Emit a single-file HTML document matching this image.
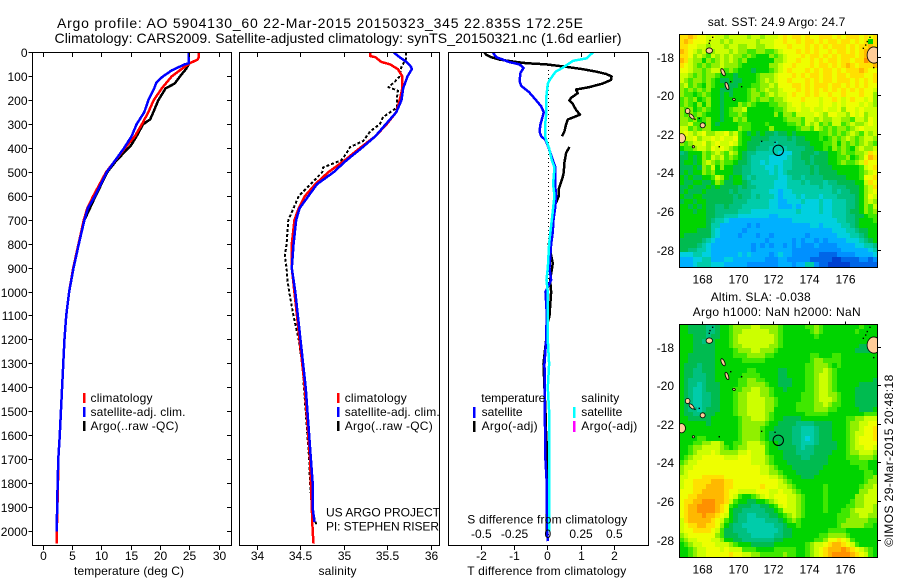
<!DOCTYPE html>
<html lang="en">
<head>
<meta charset="utf-8">
<title>Argo profile 5904130</title>
<style>
html,body{margin:0;padding:0;background:#fff;width:900px;height:580px;overflow:hidden}
svg{display:block}
text{font-family:"Liberation Sans",sans-serif;font-size:12px;fill:#000}
.ttl{font-size:14px}
.cr{shape-rendering:crispEdges}
</style>
</head>
<body>
<svg id="fig" xmlns="http://www.w3.org/2000/svg" width="900" height="580" viewBox="0 0 900 580">
<defs>
<clipPath id="c1"><rect x="32.5" y="52.5" width="199" height="493"/></clipPath>
<clipPath id="c2"><rect x="239.5" y="52.5" width="200" height="493"/></clipPath>
<clipPath id="c3"><rect x="448.5" y="52.5" width="200" height="493"/></clipPath>
<clipPath id="m1"><rect x="679.3" y="34.3" width="198" height="232.7"/></clipPath>
<clipPath id="m2"><rect x="679.3" y="324.3" width="198" height="232.7"/></clipPath>
</defs>
<rect width="900" height="580" fill="#fff"/>
<text class="ttl" x="57" y="28" textLength="526" lengthAdjust="spacing">Argo profile: AO 5904130_60 22-Mar-2015 20150323_345 22.835S 172.25E</text>
<text class="ttl" x="54.5" y="43" textLength="567" lengthAdjust="spacing">Climatology: CARS2009. Satellite-adjusted climatology: synTS_20150321.nc (1.6d earlier)</text>

<g id="panelT"></g>
<g id="panelS"></g>
<g id="panelD"></g>
<g id="mapA"></g>
<g id="mapB"></g>

<text x="74" y="575" textLength="110" lengthAdjust="spacing">temperature (deg C)</text>
<text x="318.5" y="575" textLength="38" lengthAdjust="spacing">salinity</text>
<text x="467.3" y="575" textLength="159" lengthAdjust="spacing">T difference from climatology</text>
<text x="467.3" y="523.5" textLength="160" lengthAdjust="spacing">S difference from climatology</text>

<g>
<rect class="cr" x="83" y="393" width="2.5" height="10" fill="#f00"/>
<rect class="cr" x="83" y="407" width="2.5" height="10" fill="#00f"/>
<rect class="cr" x="83" y="421" width="2.5" height="10" fill="#000"/>
<text x="90.5" y="402" textLength="62" lengthAdjust="spacing">climatology</text>
<text x="90.5" y="416" textLength="95" lengthAdjust="spacing">satellite-adj. clim.</text>
<text x="90.5" y="430" textLength="88" lengthAdjust="spacing">Argo(..raw -QC)</text>
</g>
<g>
<rect class="cr" x="337" y="393" width="2.5" height="10" fill="#f00"/>
<rect class="cr" x="337" y="407" width="2.5" height="10" fill="#00f"/>
<rect class="cr" x="337" y="421" width="2.5" height="10" fill="#000"/>
<text x="344.7" y="402" textLength="62" lengthAdjust="spacing">climatology</text>
<text x="344.7" y="416" textLength="95" lengthAdjust="spacing">satellite-adj. clim.</text>
<text x="344.7" y="430" textLength="88" lengthAdjust="spacing">Argo(..raw -QC)</text>
</g>
<g>
<text x="481.3" y="402" textLength="64" lengthAdjust="spacing">temperature</text>
<text x="481.6" y="416" textLength="41" lengthAdjust="spacing">satellite</text>
<text x="481.6" y="430" textLength="56" lengthAdjust="spacing">Argo(-adj)</text>
<rect class="cr" x="473" y="407" width="2.5" height="11" fill="#00f"/>
<rect class="cr" x="473" y="421" width="2.5" height="11" fill="#000"/>
<text x="581.3" y="402" textLength="38" lengthAdjust="spacing">salinity</text>
<text x="581.3" y="416" textLength="41" lengthAdjust="spacing">satellite</text>
<text x="581.3" y="430" textLength="56" lengthAdjust="spacing">Argo(-adj)</text>
<rect class="cr" x="573" y="407" width="2.5" height="11" fill="#0ff"/>
<rect class="cr" x="573" y="421" width="2.5" height="11" fill="#f0f"/>
</g>
<text x="326" y="516.5" textLength="114" lengthAdjust="spacing">US ARGO PROJECT</text>
<text x="326" y="530.5" textLength="113" lengthAdjust="spacing">PI: STEPHEN RISER</text>

<text x="707.7" y="26" textLength="137.6" lengthAdjust="spacing">sat. SST: 24.9 Argo: 24.7</text>
<text x="710.7" y="301" textLength="100" lengthAdjust="spacing">Altim. SLA: -0.038</text>
<text x="692.7" y="316" textLength="168" lengthAdjust="spacing">Argo h1000: NaN h2000: NaN</text>
<text transform="translate(893,546.7) rotate(-90)" textLength="172" lengthAdjust="spacing">©IMOS 29-Mar-2015 20:48:18</text>
</svg>

<script>
/* ---- axis values ---- */
const depthTicks = [0,100,200,300,400,500,600,700,800,900,1000,1100,1200,1300,1400,1500,1600,1700,1800,1900,2000];
const tempTicks = [0,5,10,15,20,25,30];
const salTicks = [34,34.5,35,35.5,36];
const salTickLabels = ['34','34.5','35','35.5','36'];
const tDiffTicks = [-2,-1,0,1,2];
const sDiffTicks = [-0.5,-0.25,0,0.25,0.5];
const sDiffLabels = ['-0.5','-0.25','0','0.25','0.5'];
const lonTicks = [168,170,172,174,176];
const latTicks = [-18,-20,-22,-24,-26,-28];

/* ---- temperature profiles ---- */
const tempClimDepth = [0,20,30,45,60,100,150,200,250,300,350,400,500,600,650,700,800,900,1000,1100,1200,1300,1400,1500,1600,1700,1800,1900,2000,2050];
const tempClim = [26.5,26.5,26.3,25.0,24.1,21.9,20.2,18.8,17.9,16.8,15.6,13.9,10.7,8.5,7.5,6.9,6.0,5.1,4.4,3.9,3.6,3.4,3.2,3.0,2.8,2.55,2.5,2.4,2.3,2.3];
const tempSatDepth = [0,45,50,75,100,125,150,200,250,300,350,400,500,600,650,700,800,900,1000,1100,1200,1300,1400,1500,1600,1700,1800,1900,2000];
const tempSat = [24.8,24.8,24.1,21.9,20.4,19.3,18.9,17.9,17.2,15.9,15.05,13.75,10.8,8.8,7.6,7.0,6.05,5.15,4.4,3.9,3.6,3.4,3.2,3.0,2.8,2.55,2.45,2.35,2.3];
const tempArgoDepth = [0,50,70,100,130,150,200,250,280,300,350,390,450,500,600,700,800,900,1000,1100,1200,1300,1400,1500,1600,1700,1800,1900,2000];
const tempArgo = [24.8,24.8,24.3,23.3,22.4,20.85,19.6,18.75,18.2,17,15.9,14.9,12.5,10.9,8.9,7.0,6.05,5.15,4.4,3.9,3.6,3.4,3.2,3,2.8,2.55,2.45,2.35,2.3];

/* ---- salinity profiles ---- */
const salClimDepth = [0,15,20,40,50,70,100,150,200,250,300,350,400,450,500,550,600,650,700,800,900,1000,1100,1200,1300,1400,1500,1600,1700,1800,1900,2000,2050];
const salClim = [35.30,35.30,35.36,35.43,35.53,35.62,35.67,35.67,35.64,35.60,35.49,35.36,35.18,35.01,34.82,34.67,34.55,34.48,34.43,34.40,34.40,34.43,34.46,34.49,34.52,34.55,34.57,34.59,34.61,34.62,34.63,34.64,34.65];
const salSatDepth = [0,20,40,60,70,100,150,200,250,300,350,400,450,500,550,600,650,700,800,900,1000,1100,1200,1300,1400,1500,1600,1700,1800,1900,1960];
const salSat = [35.57,35.64,35.72,35.77,35.78,35.73,35.68,35.66,35.60,35.48,35.36,35.20,35.03,34.88,34.69,34.59,34.49,34.45,34.42,34.40,34.44,34.47,34.50,34.53,34.56,34.58,34.60,34.62,34.64,34.64,34.66];
const salArgoDepth = [0,30,60,100,120,145,160,185,230,270,300,330,370,395,420,450,480,500,530,560,600,650,700,800,850,900,950,1000,1100,1200,1300,1400,1500,1600,1700,1800,1900,1960,1975];
const salArgo = [35.71,35.71,35.66,35.64,35.59,35.51,35.62,35.61,35.61,35.45,35.41,35.30,35.22,35.07,35.03,34.97,34.76,34.75,34.67,34.59,34.48,34.42,34.36,34.34,34.32,34.34,34.35,34.37,34.42,34.48,34.52,34.54,34.56,34.58,34.60,34.61,34.63,34.67,34.69];

/* ---- differences from climatology ---- */
const dTSatDepth = [0,20,30,40,50,65,85,120,140,165,200,225,250,300,330,350,365,400,450,480,550,600,650,700,750,800,900,950,1000,1090,1200,1300,1500,1700,1800,2000,2040];
const dTSat = [-1.65,-1.55,-1.35,-1.17,-0.85,-0.73,-0.82,-0.85,-0.8,-0.57,-0.35,-0.2,-0.12,-0.22,-0.25,-0.2,-0.07,0.03,0.15,0.23,0.22,0.25,0.22,0.17,0.15,0.1,0.05,0.1,-0.07,-0.03,-0.05,-0.1,-0.09,-0.07,-0.03,-0.02,0];
const dTArgoDepth = [0,10,20,30,40,45,50,60,70,80,90,100,115,130,145,155,170,190,200,215,240,260,280,300,330,350,370,395,420,460,500,520,570,600,650,700,800,880,950,1000,1100,1150,1200,1300,1500,1600,1700,1800,2000];
const dTArgo = [-1.9,-1.85,-1.7,-1.45,-0.95,-0.65,-0.05,0.55,1.05,1.45,1.75,1.92,1.9,1.65,1.25,0.85,0.9,0.7,0.65,0.75,0.85,0.97,0.6,0.55,0.5,0.43,null,0.65,0.55,0.5,0.48,0.45,0.33,0.33,0.18,0.17,0.03,0.15,0.07,0.1,0.05,-0.05,-0.05,-0.13,-0.07,-0.05,0,-0.03,-0.03];
const dSSatDepth = [0,15,25,35,50,65,80,110,130,180,250,300,350,370,400,450,480,550,600,650,700,800,900,950,1000,1100,1200,1300,1400,1500,1600,1700,1800,1950,2000];
const dSSat = [0.34,0.31,0.29,0.19,0.15,0.11,0.06,0.02,0,-0.01,-0.01,-0.02,-0.02,-0.01,0.01,0.03,0.05,0.04,0.05,0.04,0.03,0.01,0,-0.01,0,0,0,0.01,0,0.01,0.01,0.01,0.01,0.01,0.01];

/* ---- map grids: one hex colour level per cell, north to south ---- */
const sstRows = [
"ddedccbcbba bbbbabbabbb cdcddcdccdd dcdcdddcdcd",
"dedcccbbbab abbbbbabbbc cdccdcddcdc ddcddcdcd8d",
"ddccbbabbba bbaabbaabbc ccdcccdcdcd cdddcdcdded",
"edcbab9abbb abaa99aa99a bcccdcdcdcc dcddcdcdeef",
"ddcaba9baba baa9a9888a9 abcccdcddcd cdcdddcdeff",
"edbaa8a9aba ba9a888888a abccdccdcdc ddcddcddfed",
"dcba9a9aaba aa9888888aa bccdcccdcdd cdcdedcddde",
"ccbaa9abba9 a988878889a bcdcccdcdcd dcdcdddedcc",
"bba9a9aa988 8788889aaab cccdcdcddcd dcddcdddccd",
"ba9aa9a9877 8778889abab ccdcccdcdcd dcdddcdcdcd",
"ab9a98a9887 7788899aaba cccddcdcddd cddcdcdcdcc",
"a9a9a9a8877 78889a9abaa bcccdcdcdcd cdcdcdcdccb",
"a9989a98878 78889aa9aba bbcdccdcdcc dccdcccdcca",
"9a9a89a8878 88889a9aa9a abcccdcccbc cdcbcdccbca",
"9a98a8a8878 88a9a988899 aabccbcccbc cbcbcccbcba",
"a9a89a98878 9aab8888889 9abbcbbcbbc bbcaccbcbbb",
"a9a9a988878 99a9888888a 8aa9bbbbcba ccbbacbcabb",
"aa9a89a8878 8a9a8888888 89aaa9bbaba abbaa9bbacb",
"aab998a8788 88999888988 8899a9bab9a 9bb9abaabcb",
"bb9a9aa8888 88a998888a8 88889aa9ba9 a9aa9abcbbb",
"bcbabcaabbc ab987878776 77878888899 a9a9aba9bab",
"abbcabbcbcb bc988777766 66767788898 9a9aba9abba",
"a9abbcabcbb cb987776665 66667778889 9a8a9a9aba9",
"899abbacbcb a9887766655 55666677889 8a9a98abaab",
"67888a9aba9 ba876655555 44466777677 889a99aabdc",
"77878a9bab9 a9876555544 44566776777 8899a89aced",
"78878aba9a9 98776554544 45566676777 889a99abdcc",
"77787a9b8a8 87766555445 45566667677 78888889bcd",
"78788a9a888 87766555545 45666667677 77888889abc",
"87877889ba8 78865655555 44566566667 77778889ccd",
"87788778a97 78876555554 44555656665 66777788bdc",
"77877787877 77676655554 44555555565 56667778abd",
"78777877777 67666555544 34455555555 56566778abc",
"87788777777 76766565554 34445455545 55666678acb",
"78878877777 76665555544 33444544454 45556678aba",
"88787877667 66655555544 33343444454 45556678a9b",
"88878877666 66555444444 44445444454 45556778a9a",
"88888877665 55444444433 44444444444 45556677899",
"88888876554 33333333333 33344444444 44556678889",
"88888875533 33332323333 33333334434 44455678888",
"88887775433 33323333333 33333333333 34445567788",
"87777775433 33233323323 33333323333 33444556788",
"77777654333 33333333233 33323233232 33334445678",
"77776543333 33333232323 32323222322 22333344556",
"77665543333 33333233333 33322222222 22233333345",
"44455443333 33434333323 43322222211 11222233334",
"33344553334 43333333222 33222221111 10011112212",
"33345554443 33332222222 33323355211 00000111111"
];
const slaRows = [
"88777766788 9aaaabbaaaa 98888899a98 88888889888",
"88777766788 9aabbbbbbaa 98888889a98 88888898888",
"88877767788 9abbbbbbbba 98888888988 88888888888",
"88877677888 9abbbbbbbba 98888888888 88888888887",
"88877777888 9aabbbbbbaa 98888888888 88888887777",
"88877777888 89aaabbaaa9 88888888888 88888877777",
"88777777888 8999aaaa998 88888889988 89988888888",
"88777777888 88899999888 88888889aa9 99988888888",
"87776777888 88888888888 88888899aaa 98988888888",
"87766777888 88889988888 77888899aab a9888888888",
"87766677888 88899998888 77888899abb a9888888888",
"87666677888 8899aa99888 77788899abb a9888888887",
"87665677788 8899aaaa988 77788899abb a9888887777",
"87655677788 899aabbaa98 87888899abb a9888877777",
"87655667788 89aabbbaa98 88888999abb aa988877777",
"87655667788 89aabbbbaa9 88888999abb ba988877777",
"87655667788 89aabbbbaa9 88889999aab a9988877777",
"87665677788 89aabbbbaa8 88889999aaa 99888887778",
"87766777888 89aabbbba98 88888899999 88888888999",
"88777778888 889aabbba98 87777888888 888899aabbb",
"88888878888 889aaaaa988 77776666777 78889aabbcc",
"88888888888 889aaaa9887 77766555677 78889aabccd",
"88888888888 889aaaa9877 77766555677 78889abbccd",
"88889988888 889aaaa9877 77766545677 78889abcccd",
"88899aabba8 899abbba988 77766555677 77889abcccc",
"889aabbbba9 89aabbbb988 77776566777 77889abbccb",
"889abbbcbaa aabbcbbb988 87776666777 78889aabbba",
"89abbcccccb bbcccbbba98 87777667777 8888999aaa9",
"9abbccccccc cccccbbba98 88777777777 88888999988",
"abbcccccccc cccccccbba9 88877777778 88888889988",
"abccccccccc cccccccbbaa 98887777788 88888888998",
"bbcccdddddc cccccccccbb a9888777888 8888888899a",
"bccddddeeed dcccccccccc ba988888888 888888889aa",
"bccdddeeeed dccccccdccc bba98888889 88888889aab",
"cccddeeeeed ccbbbbcccbb cbba9888889 8888888aabb",
"ccddeeeeeed cb9889abcbc ccbba988889 888888aabbb",
"cddeefffeed b98877889ab ccbba988889 888889aabbb",
"cdeeffffedc 98777667789 bcbba988889 888899aabba",
"cdeeffffedc 87766666778 9bbba988889 88899abbbba",
"cdeeefeedcb 87665566677 89aba988888 88999aabbaa",
"bdeeeeedcb9 87665555666 789a9888888 8899aaaaa99",
"bcddeeddca8 76655555556 67889888888 889aaaaa998",
"bccddddcb97 76665555555 67788888888 99998888888",
"abcccccca97 77666555556 67788888899 aaaa9888888",
"9abbcccbba8 87766666667 7888888899a ccdcb988888",
"89abbcccbbb a9888777778 8888889abbc deedcb98888",
"889abbcccbc bbb99988889 9999889abcd eeefedcba98",
"889abbccccc dccbbaa9999 9a99889abcd effffedcb98"
];
const colourLevels = ['#0040d0','#0066e8','#0090ff','#00b0ff','#00d0e0','#00ccaa','#00c080','#00bb50','#00d400','#40e800','#90f000','#ccff00','#eeff00','#ffe000','#ffb800','#ff9000'];

/* ---- geography (degrees) ---- */
const landLon = [168.39,169.16,169.38,169.77,167.18,167.4,168.02,166.84,167.5,177.6];
const landLat = [-17.67,-18.79,-19.5,-20.2,-20.8,-21.08,-21.54,-22.21,-22.65,-17.9];
const landRadLon = [0.18,0.09,0.08,0.08,0.13,0.18,0.14,0.22,0.06,0.38];
const landRadLat = [0.14,0.2,0.2,0.05,0.13,0.08,0.13,0.24,0.06,0.42];
const landTilt = [0,-25,-20,20,0,45,30,0,0,0];
const speckLon = [170.2,172.07,171.32,168.95,177.59,169.59,167.83,167.59,168.43,168.58,168.39,177.01,177.14,177.23,177.38];
const speckLat = [-19.54,-22.42,-22.37,-22.65,-18.55,-19.28,-21.18,-21.23,-17.15,-16.98,-17.29,-17.55,-17.38,-17.2,-16.98];
const profileLon = 172.25;
const profileLat = -22.835;

/* ---- scales ---- */
function linear(d0,d1,r0,r1){return function(v){return r0+(v-d0)*(r1-r0)/(d1-d0);};}
const depthY = linear(0,1000,52.4,292);
const tempX = linear(0,30,43.3,219.3);
const salX = linear(34,36,257,431);
const tDiffX = linear(-2,2,481.3,614.3);
const sDiffX = linear(-0.5,0.5,481.3,614.3);
const lonX = linear(168,176,702.3,845.3);
const latY1 = linear(-18,-28,57,250);
const latY2 = linear(-18,-28,347,540);
const NS = 'http://www.w3.org/2000/svg';

function mk(tag,parent,attrs){
  const el=document.createElementNS(NS,tag);
  for(const k in attrs){el.setAttribute(k,attrs[k]);}
  parent.appendChild(el);
  return el;
}
function snap(v){return Math.round(v-0.5)+0.5;}
function tick(parent,x1,y1,x2,y2,name){
  const el=mk('line',parent,{x1:x1,y1:y1,x2:x2,y2:y2,stroke:'#000','stroke-width':1,'class':'cr'});
  
  
}
function label(parent,x,y,anchor,str,name){
  const el=mk('text',parent,{x:x,y:y,'text-anchor':anchor});
  el.textContent=str;
  
  
}
function frame(parent,x,y,w,h,name){
  const el=mk('rect',parent,{x:x,y:y,width:w,height:h,fill:'none',stroke:'#000','stroke-width':1,'class':'cr'});
  
  
}
function series(parent,depths,values,xs,colour,w,clip,name,dash){
  let pts=[];
  function flush(){
    if(pts.length>1){
      const a={points:pts.join(' '),fill:'none',stroke:colour,'stroke-width':w,'clip-path':'url(#'+clip+')','stroke-linejoin':'round','class':'cr'};
      if(dash){a['stroke-dasharray']=dash;}
      const el=mk('polyline',parent,a);
      
      
    }
    pts=[];
  }
  for(let i=0;i<values.length;i++){
    if(values[i]===null){flush();continue;}
    pts.push(xs(values[i]).toFixed(2)+','+depthY(depths[i]).toFixed(2));
  }
  flush();
}

/* ---- temperature panel ---- */
const pT=document.getElementById('panelT');
series(pT,tempArgoDepth,tempArgo,tempX,'#000',2.5,'c1','argo-temperature-line');
series(pT,tempClimDepth,tempClim,tempX,'#f00',2.5,'c1','climatology-temperature-line');
series(pT,tempSatDepth,tempSat,tempX,'#00f',2.5,'c1','satellite-temperature-line');
frame(pT,32.5,52.5,199,493,'temperature-plot-frame');
depthTicks.forEach(function(d){
  const y=snap(depthY(d));
  tick(pT,28.5,y,32.5,y,'depth-tick');
  tick(pT,227,y,231.5,y,'depth-tick-right');
  label(pT,27.5,y+4.5,'end',String(d),'depth-tick-label');
});
tempTicks.forEach(function(v){
  const x=snap(tempX(v));
  tick(pT,x,52.5,x,57,'temperature-tick-top');
  tick(pT,x,545.5,x,550,'temperature-tick');
  label(pT,x,560,'middle',String(v),'temperature-tick-label');
});

/* ---- salinity panel ---- */
const pS=document.getElementById('panelS');
series(pS,salArgoDepth,salArgo,salX,'#000',2,'c2','argo-salinity-line','3 2');
series(pS,salClimDepth,salClim,salX,'#f00',2.5,'c2','climatology-salinity-line');
series(pS,salSatDepth,salSat,salX,'#00f',2.5,'c2','satellite-salinity-line');
frame(pS,239.5,52.5,200,493,'salinity-plot-frame');
salTicks.forEach(function(v,i){
  const x=snap(salX(v));
  tick(pS,x,52.5,x,57,'salinity-tick-top');
  tick(pS,x,545.5,x,550,'salinity-tick');
  label(pS,x,560,'middle',salTickLabels[i],'salinity-tick-label');
});

/* ---- difference panel ---- */
const pD=document.getElementById('panelD');
const zeroLine=mk('line',pD,{x1:548.5,y1:70,x2:548.5,y2:540,stroke:'#000','stroke-width':1,'stroke-dasharray':'1 3','class':'cr'});


series(pD,dTArgoDepth,dTArgo,tDiffX,'#000',2.5,'c3','argo-temperature-difference-line');
series(pD,dTSatDepth,dTSat,tDiffX,'#00f',2.5,'c3','satellite-temperature-difference-line');
series(pD,dSSatDepth,dSSat,sDiffX,'#0ff',2.5,'c3','satellite-salinity-difference-line');
frame(pD,448.5,52.5,200,493,'difference-plot-frame');
tDiffTicks.forEach(function(v){
  const x=snap(tDiffX(v));
  tick(pD,x,52.5,x,57,'t-difference-tick-top');
  tick(pD,x,545.5,x,550,'t-difference-tick');
  label(pD,x,560,'middle',String(v),'t-difference-tick-label');
});
sDiffTicks.forEach(function(v,i){
  label(pD,sDiffX(v),538,'middle',sDiffLabels[i],'s-difference-tick-label');
});

/* ---- maps ---- */
function drawMap(parent,rows,latY,clip,cellName,topY,botY,labelBase){
  const lonMin=166.71,lonMax=177.79,latMax=-16.82,latMin=-28.88;
  const nR=rows.length;
  rows.forEach(function(rowText,r){
    const row=rowText.replace(/ /g,'');
    const nC=row.length;
    const dLon=(lonMax-lonMin)/nC,dLat=(latMax-latMin)/nR;
    for(let c=0;c<nC;c++){
      const x0=Math.round(lonX(lonMin+c*dLon)),x1=Math.round(lonX(lonMin+(c+1)*dLon));
      const y0=Math.round(latY(latMax-r*dLat)),y1=Math.round(latY(latMax-(r+1)*dLat));
      const cell=mk('rect',parent,{x:x0,y:y0,width:x1-x0,height:y1-y0,fill:colourLevels[parseInt(row[c],16)],'class':'cr'});
      
      
    }
  });
  landLon.forEach(function(lon,i){
    const cx=lonX(lon),cy=latY(landLat[i]);
    const rx=lonX(lon+landRadLon[i])-cx;
    const ry=latY(landLat[i]-landRadLat[i])-cy;
    const isl=mk('ellipse',parent,{cx:cx.toFixed(2),cy:cy.toFixed(2),rx:rx.toFixed(2),ry:ry.toFixed(2),fill:'#ffcc99',stroke:'#000','stroke-width':0.8,transform:'rotate('+landTilt[i]+' '+cx.toFixed(2)+' '+cy.toFixed(2)+')','clip-path':'url(#'+clip+')'});
    
    
  });
  speckLon.forEach(function(lon,i){
    const sp=mk('rect',parent,{x:(lonX(lon)-0.7).toFixed(2),y:(latY(speckLat[i])-0.7).toFixed(2),width:1.4,height:1.4,fill:'#000','clip-path':'url(#'+clip+')'});
    
    
  });
  const ring=mk('circle',parent,{cx:lonX(profileLon).toFixed(2),cy:latY(profileLat).toFixed(2),r:5.2,fill:'none',stroke:'#000','stroke-width':1});
  
  
  frame(parent,679.5,topY,198,botY-topY,'map-frame');
  lonTicks.forEach(function(v){
    const x=snap(lonX(v));
    tick(parent,x,topY-3,x,topY,'longitude-tick');
    label(parent,x,labelBase,'middle',String(v),'longitude-tick-label');
  });
  latTicks.forEach(function(v){
    const y=snap(latY(v));
    tick(parent,877.5,y,881,y,'latitude-tick');
    label(parent,674,y+4.5,'end',String(v),'latitude-tick-label');
  });
}
drawMap(document.getElementById('mapA'),sstRows,latY1,'m1','sst-cell',34.5,267.5,283.5);
drawMap(document.getElementById('mapB'),slaRows,latY2,'m2','sla-cell',324.5,557.5,573.5);
</script>
</body>
</html>
